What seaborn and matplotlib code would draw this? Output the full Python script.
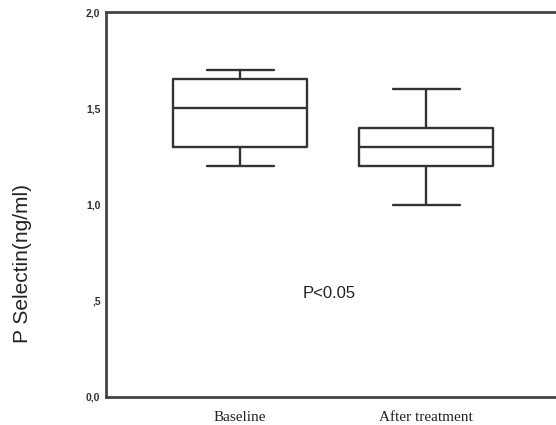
import pandas as pd
import numpy as np
import matplotlib
matplotlib.use("Agg")
import matplotlib.pyplot as plt
import seaborn as sns

# five-number summaries (min, q1, median, q3, max)
groups = ["Baseline", "After treatment"]
baseline = [1.20, 1.30, 1.50, 1.65, 1.70]
after = [1.00, 1.20, 1.30, 1.40, 1.60]
yticks = [0.0, 0.5, 1.0, 1.5, 2.0]
ytick_labels = ["0,0", ",5", "1,0", "1,5", "2,0"]

df = pd.DataFrame({
    "group": [groups[0]] * len(baseline) + [groups[1]] * len(after),
    "value": baseline + after,
})

sns.set_style("white")
plt.rcParams["font.family"] = ["Liberation Sans", "DejaVu Sans"]

fig = plt.figure(figsize=(5.56, 4.25), dpi=100)
# right edge of the frame falls just outside the picture, like the scan
ax = fig.add_axes([106 / 556, 28 / 425, 456 / 556, 385 / 425])

line = dict(color="#333333", linewidth=1.7)
sns.boxplot(data=df, x="group", y="value", order=groups, ax=ax,
            width=0.72, whis=1.5, fill=False, color="#333333",
            linewidth=1.7, showfliers=False,
            boxprops=line, whiskerprops=line, capprops=line, medianprops=line)

ax.set_xlim(-0.72, 1.73)
ax.set_ylim(0, 2.0)
ax.set_yticks(yticks)
ax.set_yticklabels(ytick_labels, fontsize=7.5, fontweight="bold", color="#333333")
ax.set_xticks([0, 1])
ax.set_xticklabels(groups, fontsize=11, family=["Liberation Serif"], color="#222222")
ax.tick_params(axis="y", direction="out", length=2, width=1, color="#444444", pad=2)
ax.tick_params(axis="x", direction="out", length=2, width=1, color="#444444", pad=8)
ax.set_xlabel("")
ax.set_ylabel("P Selectin(ng/ml)", fontsize=15, color="#222222")
ax.yaxis.set_label_coords(-0.162, 0.348)

for s in ax.spines.values():
    s.set_color("#444444")
    s.set_linewidth(2)

ax.text(0.48, 0.54, "P<0.05", fontsize=12, color="#222222", ha="center", va="center")

fig.savefig("out.png", dpi=100)
